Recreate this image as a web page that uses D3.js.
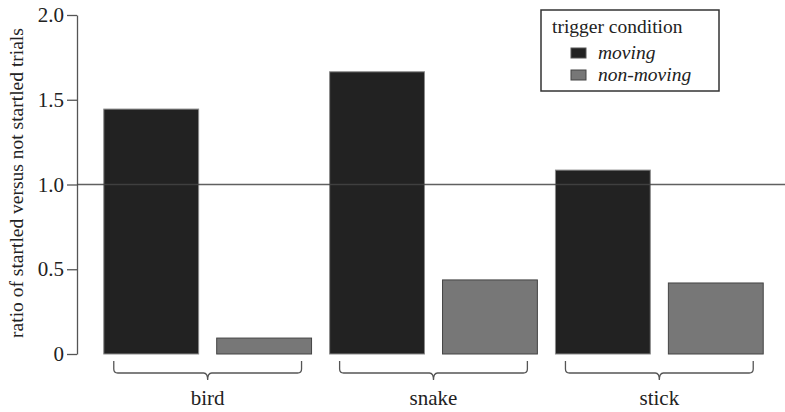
<!DOCTYPE html>
<html>
<head>
<meta charset="utf-8">
<script src="https://cdn.jsdelivr.net/npm/d3@7"></script>
</head>
<body style="margin:0;background:#fff">
<svg id="chart" width="785" height="412"></svg>
<script>
// data
const objects = ['bird', 'snake', 'stick'];
const conditions = ['moving', 'non-moving'];
const moving = [1.445, 1.665, 1.085];
const nonMoving = [0.094, 0.437, 0.419];
const yTicks = [0, 0.5, 1.0, 1.5, 2.0];

const FONT = 'Liberation Serif';
const fills = { 'moving': '#222222', 'non-moving': '#777777' };
const strokes = { 'moving': '#8a8a8a', 'non-moving': '#444444' };

const W = 785, H = 412;
const svg = d3.select('#chart');

let y = d3.scaleLinear().domain([0, 2]).range([354, 15]);

// one slot per bar
let bars = [];
for (let i = 0; i < objects.length; i++) {
  bars.push({ obj: objects[i], cond: 'moving', value: moving[i] });
  bars.push({ obj: objects[i], cond: 'non-moving', value: nonMoving[i] });
}
let x = d3.scaleBand()
    .domain(d3.range(bars.length))
    .range([97, 770])
    .paddingInner(0.16)
    .paddingOuter(0.06);

function serif(sel, size) {
  sel.attr('font-family', FONT)
     .attr('font-size', size)
     .style('font-family', FONT, 'important')
     .style('font-size', size + 'px');
}

// y axis
let yAxis = d3.axisLeft(y)
    .tickValues(yTicks)
    .tickSize(10)
    .tickSizeOuter(0)
    .tickFormat(d => d === 0 ? '0' : d3.format('.1f')(d));
let ga = svg.append('g')
    .attr('transform', 'translate(77,0)')
    .call(yAxis);
ga.attr('font-family', FONT).attr('font-size', 21);
ga.select('.domain').attr('stroke', '#555').attr('stroke-width', 1.3);
ga.selectAll('.tick line').attr('stroke', '#555').attr('stroke-width', 1.3);
ga.selectAll('.tick text')
    .attr('x', -13)
    .attr('fill', '#222')
    .call(serif, 21);

// y label
svg.append('text')
    .attr('transform', 'translate(23,' + (y(0) / 2 + 6) + ') rotate(-90)')
    .attr('text-anchor', 'middle')
    .attr('fill', '#222')
    .call(serif, 19.5)
    .text('ratio of startled versus not startled trials');

// bars
svg.selectAll('.bar').data(bars).enter()
  .append('rect')
    .attr('class', 'bar')
    .attr('x', (d, i) => x(i))
    .attr('width', x.bandwidth())
    .attr('y', d => y(d.value))
    .attr('height', d => y(0) - y(d.value))
    .attr('fill', d => fills[d.cond])
    .attr('stroke', d => strokes[d.cond])
    .attr('stroke-width', 1);

// reference line at 1.0
svg.append('line')
    .attr('x1', 77)
    .attr('x2', W)
    .attr('y1', y(1))
    .attr('y2', y(1))
    .attr('stroke', '#444')
    .attr('stroke-opacity', 0.85)
    .attr('stroke-width', 1.3);

// braces + group labels
function brace(x0, x1) {
  let top = 361, mid = 373, tip = 380, c = (x0 + x1) / 2;
  return 'M' + x0 + ',' + top +
    ' L' + x0 + ',' + (mid - 4) +
    ' Q' + x0 + ',' + mid + ' ' + (x0 + 4) + ',' + mid +
    ' L' + (c - 4) + ',' + mid +
    ' Q' + c + ',' + mid + ' ' + c + ',' + tip +
    ' Q' + c + ',' + mid + ' ' + (c + 4) + ',' + mid +
    ' L' + (x1 - 4) + ',' + mid +
    ' Q' + x1 + ',' + mid + ' ' + x1 + ',' + (mid - 4) +
    ' L' + x1 + ',' + top;
}
let groups = svg.selectAll('.grp').data(objects).enter()
  .append('g')
    .attr('class', 'grp');
groups.append('path')
    .attr('d', (d, i) => brace(x(2 * i) + 10, x(2 * i + 1) + x.bandwidth() - 10))
    .attr('fill', 'none')
    .attr('stroke', '#555')
    .attr('stroke-width', 1.3);
groups.append('text')
    .attr('x', (d, i) => (x(2 * i) + x(2 * i + 1) + x.bandwidth()) / 2)
    .attr('y', 405)
    .attr('text-anchor', 'middle')
    .attr('fill', '#222')
    .call(serif, 21)
    .text(d => d);

// legend
let lg = svg.append('g').attr('transform', 'translate(541,10)');
lg.append('rect')
    .attr('width', 178)
    .attr('height', 81)
    .attr('fill', '#fff')
    .attr('stroke', '#333')
    .attr('stroke-width', 1.5);
lg.append('text')
    .attr('x', 11)
    .attr('y', 23)
    .attr('fill', '#222')
    .call(serif, 19.5)
    .text('trigger condition');
let items = lg.selectAll('.item').data(conditions).enter()
  .append('g')
    .attr('class', 'item')
    .attr('transform', (d, i) => 'translate(0,' + (39 + i * 22) + ')');
items.append('rect')
    .attr('x', 30)
    .attr('y', -1)
    .attr('width', 15)
    .attr('height', 10)
    .attr('fill', d => fills[d])
    .attr('stroke', d => d === 'moving' ? '#555' : '#444');
items.append('text')
    .attr('x', 57)
    .attr('y', 10)
    .attr('font-style', 'italic')
    .attr('fill', '#222')
    .call(serif, 19.5)
    .text(d => d);
</script>
</body>
</html>
